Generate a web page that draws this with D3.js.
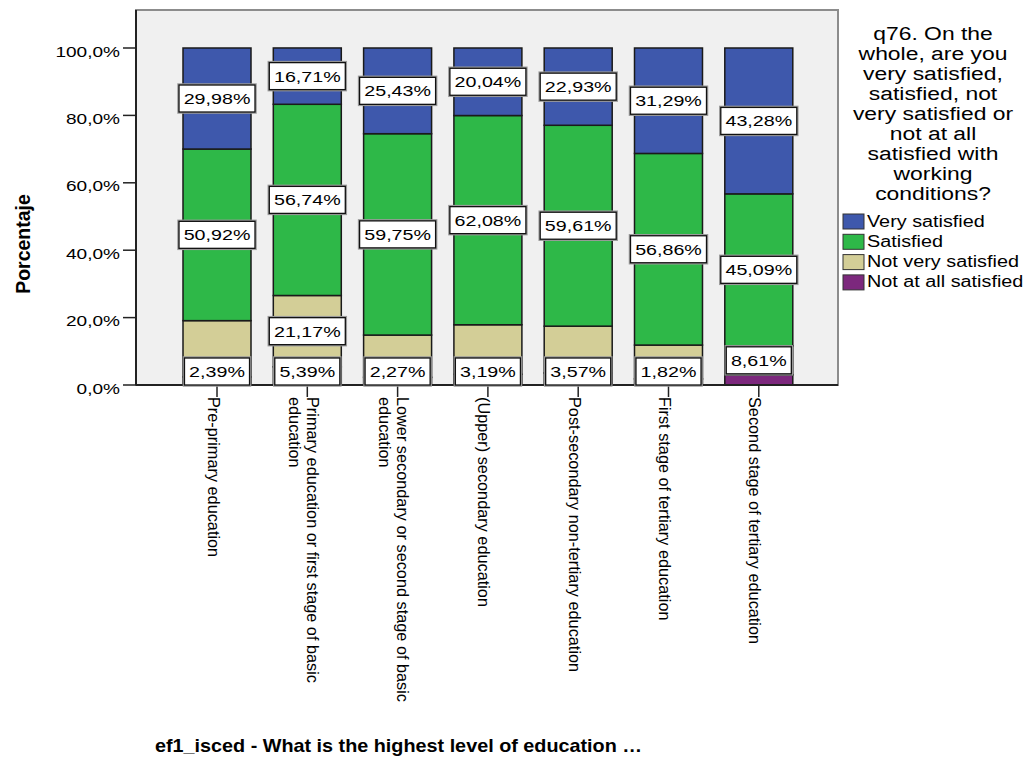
<!DOCTYPE html>
<html>
<head>
<meta charset="utf-8">
<script src="https://cdn.jsdelivr.net/npm/d3@7"></script>
<style>
  body { margin: 0; background: #ffffff; }
  svg { display: block; }
  text { font-family: "Liberation Sans", Arial, sans-serif; fill: #000; }
</style>
</head>
<body>
<svg id="chart" width="1025" height="757"></svg>
<script>
// Education level categories (x axis)
const categories = [
  "Pre-primary education",
  "Primary education or first stage of basic education",
  "Lower secondary or second stage of basic education",
  "(Upper) secondary education",
  "Post-secondary non-tertiary education",
  "First stage of tertiary education",
  "Second stage of tertiary education"
];

// Percentages per answer, one value per education level
const verySatisfied     = [29.98, 16.71, 25.43, 20.04, 22.93, 31.29, 43.28];
const satisfied         = [50.92, 56.74, 59.75, 62.08, 59.61, 56.86, 45.09];
const notVerySatisfied  = [16.71, 21.17, 12.55, 14.69, 13.89, 10.03, 8.61];
const notAtAllSatisfied = [2.39, 5.39, 2.27, 3.19, 3.57, 1.82, 3.02];

// Which segment labels are printed (crowded ones are left out)
const showVeryLabel     = [true, true, true, true, true, true, true];
const showSatLabel      = [true, true, true, true, true, true, true];
const showNotVeryLabel  = [false, true, false, false, false, false, true];
const showNotAtAllLabel = [true, true, true, true, true, true, false];

const seriesNames = ["Very satisfied", "Satisfied", "Not very satisfied", "Not at all satisfied"];
const seriesColors = ["#3e58ac", "#2eb848", "#d3ce97", "#7c287d"];

const yTicks = [0, 20, 40, 60, 80, 100];
const yTickLabels = ["0,0%", "20,0%", "40,0%", "60,0%", "80,0%", "100,0%"];

const yTitle = "Porcentaje";
const xTitle = "ef1_isced - What is the highest level of education \u2026";
const legendTitleLines = [
  "q76. On the", "whole, are you", "very satisfied,", "satisfied, not",
  "very satisfied or", "not at all", "satisfied with", "working", "conditions?"
];

// ---- layout ----
const SX = 1.27;               // horizontal text widening
const frame = { left: 136, right: 838, top: 10, bottom: 385 };

const svg = d3.select("#chart");

const keys = ["notAtAll", "notVery", "sat", "very"];     // bottom to top
const keyIndex = { very: 0, sat: 1, notVery: 2, notAtAll: 3 };
const showFlags = { very: showVeryLabel, sat: showSatLabel, notVery: showNotVeryLabel, notAtAll: showNotAtAllLabel };

const table = categories.map((c, i) => ({
  cat: c,
  very: verySatisfied[i],
  sat: satisfied[i],
  notVery: notVerySatisfied[i],
  notAtAll: notAtAllSatisfied[i]
}));

const stacked = d3.stack().keys(keys)(table);

const x = d3.scaleBand()
  .domain(categories)
  .range([171.9, 803.9])
  .paddingInner(0.247)
  .paddingOuter(0.123);

const y = d3.scaleLinear().domain([0, 100]).range([385, 48]);

function wideText(g, tx, ty, str, opts = {}) {
  const t = g.append("text")
    .attr("transform", `translate(${tx},${ty}) scale(${opts.sx || SX},1)`)
    .attr("text-anchor", opts.anchor || "start")
    .style("font-size", (opts.size || 15.5) + "px")
    .style("font-weight", opts.weight || "normal")
    .text(str);
  return t;
}

// plot background
svg.append("rect")
  .attr("x", frame.left).attr("y", frame.top)
  .attr("width", frame.right - frame.left)
  .attr("height", frame.bottom - frame.top)
  .attr("fill", "#f0f0f0")
  .attr("stroke", "#8c8c8c")
  .attr("stroke-width", 2);

// bars
const layers = svg.append("g").selectAll("g")
  .data(stacked)
  .join("g")
  .attr("fill", d => seriesColors[keyIndex[d.key]]);

layers.selectAll("rect")
  .data(d => d)
  .join("rect")
  .attr("x", d => x(d.data.cat))
  .attr("width", x.bandwidth())
  .attr("y", d => y(d[1]))
  .attr("height", d => y(d[0]) - y(d[1]))
  .attr("stroke", "#1a1a1a")
  .attr("stroke-width", 1.5);

// axes
const yAxisG = svg.append("g");
yAxisG.append("line")
  .attr("x1", frame.left).attr("x2", frame.left)
  .attr("y1", frame.top).attr("y2", frame.bottom)
  .attr("stroke", "#222").attr("stroke-width", 2);
yTicks.forEach((v, i) => {
  yAxisG.append("line")
    .attr("x1", frame.left - 13).attr("x2", frame.left)
    .attr("y1", y(v)).attr("y2", y(v))
    .attr("stroke", "#222").attr("stroke-width", 1.5);
  wideText(yAxisG, frame.left - 16, y(v) + 8.5, yTickLabels[i], { anchor: "end", size: 15 });
});

svg.append("line")
  .attr("x1", frame.left).attr("x2", frame.right)
  .attr("y1", frame.bottom).attr("y2", frame.bottom)
  .attr("stroke", "#222").attr("stroke-width", 2);

// x ticks and wrapped, rotated category labels
const xAxisG = svg.append("g");
const catFont = 16.3, lineStep = 18, wrapLen = 330;
categories.forEach(c => {
  const cx = x(c) + x.bandwidth() / 2;
  xAxisG.append("line")
    .attr("x1", cx).attr("x2", cx)
    .attr("y1", frame.bottom).attr("y2", frame.bottom + 12)
    .attr("stroke", "#222").attr("stroke-width", 1.5);

  // greedy word wrap against the measured text length
  const probe = xAxisG.append("text").style("font-size", catFont + "px");
  const words = c.split(" ");
  const lines = [];
  let cur = "";
  words.forEach(w => {
    const test = cur ? cur + " " + w : w;
    probe.text(test);
    if (cur && probe.node().getComputedTextLength() > wrapLen) {
      lines.push(cur);
      cur = w;
    } else cur = test;
  });
  if (cur) lines.push(cur);
  probe.remove();

  const t = xAxisG.append("text")
    .attr("transform", `translate(${cx},${frame.bottom + 12}) rotate(90)`)
    .style("font-size", catFont + "px");
  lines.forEach((ln, i) => {
    t.append("tspan")
      .attr("x", 0)
      .attr("y", (i - (lines.length - 1) / 2) * lineStep + 3.5)
      .attr("dominant-baseline", "central")
      .text(ln);
  });
});

// segment value labels
const labelG = svg.append("g");
const boxH = 27;
stacked.forEach(layer => {
  const flags = showFlags[layer.key];
  layer.forEach((d, i) => {
    if (!flags[i]) return;
    const val = d[1] - d[0];
    const cx = x(d.data.cat) + x.bandwidth() / 2;
    let cy = y((d[0] + d[1]) / 2);
    cy = Math.min(cy, frame.bottom - boxH / 2);
    const str = val.toFixed(2).replace(".", ",") + "%";
    const g = labelG.append("g");
    const halo = g.append("rect");
    const box = g.append("rect");
    const t = wideText(g, cx, cy + 5.5, str, { anchor: "middle", size: 15.5 });
    const w = t.node().getBBox().width * SX + 9;
    halo.attr("x", cx - w / 2).attr("y", cy - boxH / 2)
      .attr("width", w).attr("height", boxH)
      .attr("fill", "none").attr("stroke", "#9a9a9a").attr("stroke-width", 3.5);
    box.attr("x", cx - w / 2).attr("y", cy - boxH / 2)
      .attr("width", w).attr("height", boxH)
      .attr("fill", "#ffffff").attr("stroke", "#111").attr("stroke-width", 1.3);
  });
});

// axis titles
svg.append("text")
  .attr("transform", `translate(30,244) rotate(-90)`)
  .attr("text-anchor", "middle")
  .style("font-size", "19.5px")
  .style("font-weight", "bold")
  .text(yTitle);

wideText(svg, 155, 752, xTitle, { size: 18, weight: "bold", sx: 1.1 });

// legend
const legG = svg.append("g");
legendTitleLines.forEach((ln, i) => {
  wideText(legG, 933, 40 + i * 20, ln, { anchor: "middle", size: 17.6, sx: 1.3 });
});
seriesNames.forEach((name, i) => {
  const ry = 214 + i * 20.3;
  legG.append("rect")
    .attr("x", 843).attr("y", ry)
    .attr("width", 21).attr("height", 15)
    .attr("fill", seriesColors[i])
    .attr("stroke", "#333").attr("stroke-width", 1);
  wideText(legG, 867, ry + 12.5, name, { size: 15.6 });
});
</script>
</body>
</html>
